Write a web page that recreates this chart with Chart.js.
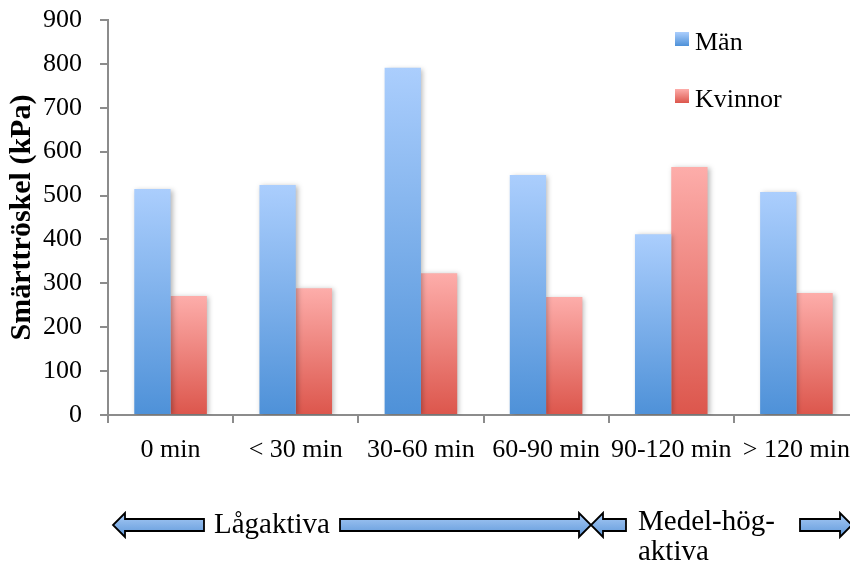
<!DOCTYPE html>
<html>
<head>
<meta charset="utf-8">
<script src="https://cdn.jsdelivr.net/npm/chart.js@4/dist/chart.umd.min.js"></script>
<style>
  html, body { margin: 0; padding: 0; background: #fff; overflow: hidden; }
  #wrap { width: 880px; height: 567px; }
</style>
</head>
<body>
<div id="wrap"><canvas id="chart" width="880" height="567"></canvas></div>
<script>
/* global Chart */
'use strict';

// Data
const categories = ['0 min', '< 30 min', '30-60 min', '60-90 min', '90-120 min', '> 120 min'];
const manValues = [515, 524, 791, 547, 412, 508];
const kvinnorValues = [271, 289, 323, 269, 565, 278];
const yTicks = [0, 100, 200, 300, 400, 500, 600, 700, 800, 900];

const SERIF = "'Liberation Serif', 'Times New Roman', serif";
Chart.defaults.font.family = SERIF;
Chart.defaults.color = '#000';

const palette = {
    man: ['#abcefd', '#4e91d8'],
    kvinnor: ['#fdadaa', '#dc564c']
};

// Vertical gradient per bar, light at the top, dark at the base
function barGradient(colors) {
    return function(ctx) {
        const chart = ctx.chart;
        if (!chart.chartArea || ctx.raw === undefined) {
            return colors[1];
        }
        const y = chart.scales.y;
        const top = y.getPixelForValue(ctx.raw);
        const bottom = y.getPixelForValue(0);
        const g = chart.ctx.createLinearGradient(0, top, 0, bottom);
        g.addColorStop(0, colors[0]);
        g.addColorStop(1, colors[1]);
        return g;
    };
}

// Soft shadow to the right of the bars
const barShadow = {
    id: 'barShadow',
    beforeDatasetsDraw: function(chart) {
        const c = chart.ctx;
        c.save();
        c.shadowColor = 'rgba(0,0,0,0.28)';
        c.shadowBlur = 5;
        c.shadowOffsetX = 2;
        c.shadowOffsetY = 1;
    },
    afterDatasetsDraw: function(chart) {
        chart.ctx.restore();
    }
};

// Legend placed inside the plot, top right
const innerLegend = {
    id: 'innerLegend',
    afterDraw: function(chart) {
        const c = chart.ctx;
        const x = 675;
        const rows = [39, 96];
        c.save();
        chart.data.datasets.forEach((ds, i) => {
            const cy = rows[i];
            const g = c.createLinearGradient(0, cy - 7, 0, cy + 7);
            g.addColorStop(0, ds.swatch[0]);
            g.addColorStop(1, ds.swatch[1]);
            c.fillStyle = g;
            c.fillRect(x, cy - 7, 14, 14);
            c.fillStyle = '#000';
            c.font = '26px ' + SERIF;
            c.textBaseline = 'alphabetic';
            c.textAlign = 'left';
            c.fillText(ds.label, x + 20, cy + 11);
        });
        c.restore();
    }
};

// Block arrows with the activity groups under the axis
function blockArrow(c, tail, tip, cy) {
    const dir = tip > tail ? 1 : -1;
    const headLen = 12;
    const shaft = 6;
    const head = 12;
    const base = tip - dir * headLen;
    c.beginPath();
    c.moveTo(tail, cy - shaft);
    c.lineTo(base, cy - shaft);
    c.lineTo(base, cy - head);
    c.lineTo(tip, cy);
    c.lineTo(base, cy + head);
    c.lineTo(base, cy + shaft);
    c.lineTo(tail, cy + shaft);
    c.closePath();
    const g = c.createLinearGradient(0, cy - head, 0, cy + head);
    g.addColorStop(0, '#a9cbf5');
    g.addColorStop(1, '#5f98da');
    c.fillStyle = g;
    c.fill();
    c.lineWidth = 1.8;
    c.strokeStyle = '#000';
    c.stroke();
}

const groupArrows = {
    id: 'groupArrows',
    afterDraw: function(chart) {
        const c = chart.ctx;
        const cy = 525;
        c.save();
        blockArrow(c, 204, 113, cy);
        blockArrow(c, 340, 591, cy);
        blockArrow(c, 626, 591, cy);
        blockArrow(c, 800, 852, cy);
        c.fillStyle = '#000';
        c.font = '29px ' + SERIF;
        c.textAlign = 'left';
        c.textBaseline = 'alphabetic';
        c.fillText('Lågaktiva', 214, 533);
        c.fillText('Medel-hög-', 638, 530);
        c.fillText('aktiva', 638, 560);
        c.restore();
    }
};

const ctx = document.getElementById('chart').getContext('2d');
new Chart(ctx, {
    type: 'bar',
    data: {
        labels: categories,
        datasets: [{
            label: 'Män',
            data: manValues,
            backgroundColor: barGradient(palette.man),
            swatch: palette.man,
            borderWidth: 0,
            barPercentage: 1.0,
            categoryPercentage: 0.58
        }, {
            label: 'Kvinnor',
            data: kvinnorValues,
            backgroundColor: barGradient(palette.kvinnor),
            swatch: palette.kvinnor,
            borderWidth: 0,
            barPercentage: 1.0,
            categoryPercentage: 0.58
        }]
    },
    options: {
        responsive: false,
        animation: false,
        layout: {
            padding: { top: 20, right: 21, bottom: 0, left: 0 }
        },
        plugins: {
            legend: { display: false },
            tooltip: { enabled: false }
        },
        scales: {
            x: {
                offset: true,
                grid: {
                    offset: true,
                    drawOnChartArea: false,
                    tickLength: 8,
                    color: '#8c8c8c',
                    lineWidth: 2
                },
                border: { color: '#8c8c8c', width: 2 },
                ticks: {
                    font: { size: 26 },
                    color: '#000',
                    padding: 12,
                    maxRotation: 0,
                    autoSkip: false
                },
                afterFit: function(scale) {
                    scale.height = 152;
                    scale.paddingLeft = 0;
                    scale.paddingRight = 0;
                }
            },
            y: {
                min: 0,
                max: 900,
                afterBuildTicks: function(scale) {
                    scale.ticks = yTicks.map(v => ({ value: v }));
                },
                grid: {
                    drawOnChartArea: false,
                    tickLength: 8,
                    color: '#8c8c8c',
                    lineWidth: 2
                },
                border: { color: '#8c8c8c', width: 2 },
                ticks: {
                    font: { size: 26 },
                    color: '#000',
                    padding: 18
                },
                title: {
                    display: true,
                    text: 'Smärttröskel (kPa)',
                    font: { size: 30, weight: 'bold' },
                    color: '#000',
                    padding: { top: 4, bottom: 0 }
                },
                afterFit: function(scale) {
                    scale.width = 108;
                    scale.paddingTop = 0;
                    scale.paddingBottom = 0;
                }
            }
        }
    },
    plugins: [barShadow, innerLegend, groupArrows]
});
</script>
</body>
</html>
